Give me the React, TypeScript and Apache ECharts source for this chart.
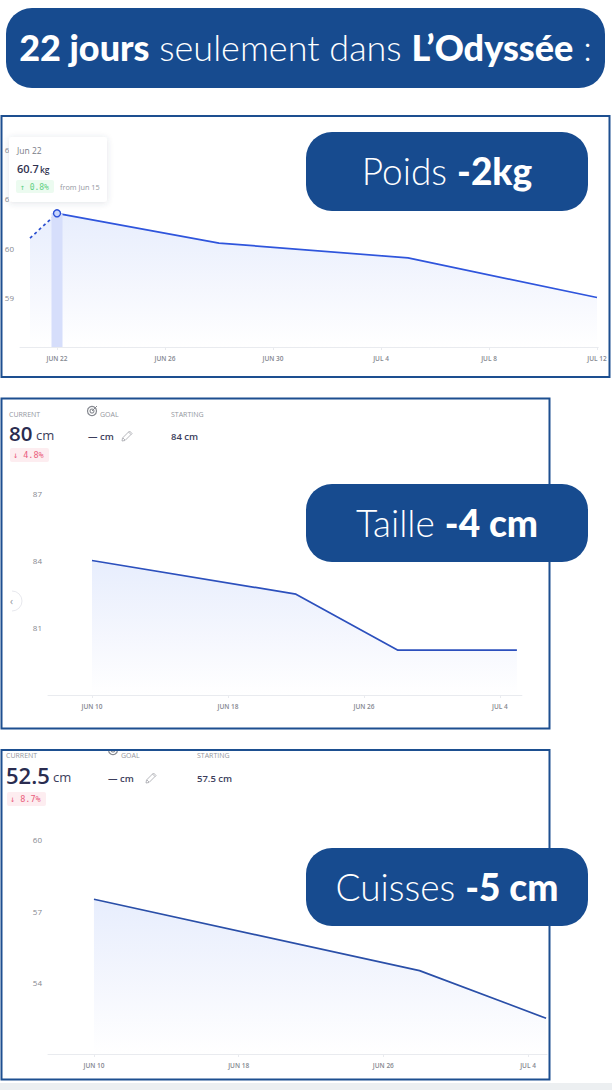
import { useEffect, useRef } from "react";
import * as echarts from "echarts";

// Poids (kg)
const poidsProjected: Array<[string, number]> = [["2024-06-21", 60.2], ["2024-06-22", 60.7]];
const poidsValues: Array<[string, number]> = [
  ["2024-06-22", 60.7],
  ["2024-06-28", 60.1],
  ["2024-07-05", 59.8],
  ["2024-07-12", 59.0],
];
const poidsSelected: Array<[string, number]> = [["2024-06-22", 60.7]];
const poidsTicks = ["2024-06-22", "2024-06-26", "2024-06-30", "2024-07-04", "2024-07-08", "2024-07-12"];

// Taille (cm)
const tailleValues: Array<[string, number]> = [
  ["2024-06-10", 84],
  ["2024-06-22", 82.5],
  ["2024-06-28", 80],
  ["2024-07-05", 80],
];
const tailleTicks = ["2024-06-10", "2024-06-18", "2024-06-26", "2024-07-04"];

// Cuisses (cm)
const cuissesValues: Array<[string, number]> = [
  ["2024-06-10", 57.5],
  ["2024-06-28", 54.5],
  ["2024-07-05", 52.5],
];
const cuissesTicks = ["2024-06-10", "2024-06-18", "2024-06-26", "2024-07-04"];

const MONTHS = ["JAN", "FEB", "MAR", "APR", "MAY", "JUN", "JUL", "AUG", "SEP", "OCT", "NOV", "DEC"];
const NAVY = "#174b8f";
const FRAME = "#1d4f90";
const UI_FONT = "'Open Sans', sans-serif";
const HEAD_FONT = "Lato, sans-serif";
const MONO = "'DejaVu Sans Mono', monospace";

const PENCIL = "M17 2 L22 7 L8 21 L2 22 L3 16 Z M15 4 L20 9 M4 16 L8 20";
echarts.graphic.registerShape("pencil", echarts.graphic.extendPath(PENCIL as any, {}) as any);

// dates sit on a plain value axis as day numbers
const dayNum = (s: string) => Date.parse(`${s}T00:00:00Z`) / 86400000;
const toDays = (rows: Array<[string, number]>) => rows.map(([d, v]) => [dayNum(d), v]);

const areaFill = () => ({
  color: new echarts.graphic.LinearGradient(0, 0, 0, 1, [
    { offset: 0, color: "#dde6fc" },
    { offset: 0.55, color: "#f0f3fd" },
    { offset: 1, color: "#ffffff" },
  ]),
});

const makeX = (gridIndex: number, min: number, max: number, ticks: string[]) => {
  const values = ticks.map(dayNum);
  return {
    type: "value",
    gridIndex,
    min,
    max,
    scale: true,
    splitLine: { show: false },
    axisLine: { show: true, onZero: false, lineStyle: { color: "#e9ebef", width: 1 } },
    axisTick: { show: true, length: 3, customValues: values, lineStyle: { color: "#e9ebef" } },
    axisLabel: {
      show: true,
      customValues: values,
      margin: 8,
      fontSize: 6.5,
      fontWeight: 600,
      fontFamily: UI_FONT,
      color: "#85888f",
      formatter: (v: number) => {
        const d = new Date(v * 86400000);
        return `${MONTHS[d.getUTCMonth()]} ${d.getUTCDate()}`;
      },
    },
  };
};

const makeY = (gridIndex: number, min: number, max: number, interval: number) => ({
  type: "value",
  gridIndex,
  min,
  max,
  interval,
  splitLine: { show: false },
  axisLine: { show: false },
  axisTick: { show: false },
  axisLabel: {
    margin: 6,
    fontSize: 8,
    fontFamily: UI_FONT,
    color: "#85888f",
    padding: [0, 0, 2, 0],
    showMinLabel: false,
    formatter: (v: number) => (v === min ? "" : String(v)),
  },
});

const makeLine = (index: number, data: Array<[string, number]>, color: string, dashed = false) => ({
  type: "line",
  xAxisIndex: index,
  yAxisIndex: index,
  data: toDays(data),
  symbol: "none",
  lineStyle: { color, width: 1.7, type: dashed ? [3, 3] : "solid" },
  areaStyle: areaFill(),
  z: 3,
});

const txt = (x: number, y: number, text: string, fontSize: number, fill: string, extra: any = {}) => ({
  type: "text",
  x,
  y,
  z: 20,
  silent: true,
  style: { text, fontSize, fill, fontFamily: UI_FONT, verticalAlign: "middle", ...extra },
});

const box = (x: number, y: number, width: number, height: number, r: number, style: any, z = 20) => ({
  type: "rect",
  z,
  silent: true,
  shape: { x, y, width, height, r },
  style,
});

const pill = (x: number, y: number, w: number, h: number, rich: string, fontSize: number) => [
  box(x, y, w, h, 26, { fill: NAVY }, 30),
  {
    type: "text",
    x: x + w / 2,
    y: y + h / 2 - 1,
    z: 31,
    silent: true,
    style: {
      text: rich,
      align: "center",
      verticalAlign: "middle",
      rich: {
        l: { fontSize, fontWeight: 300, fill: "#ffffff", fontFamily: HEAD_FONT },
        b: { fontSize, fontWeight: 900, fill: "#ffffff", fontFamily: HEAD_FONT },
      },
    },
  },
];

// header block above the taille and cuisses charts
const statHeader = (o: {
  current: string; curX: number; cmX: number; labelY: number; valueY: number; bigSize: number;
  badge: string; badgeX: number; badgeY: number; goalX: number; dashX: number; pencilX: number;
  startX: number; starting: string; iconY: number;
}) => [
  txt(o.curX, o.labelY, "CURRENT", 7, "#93969e"),
  txt(o.curX, o.valueY - 3, o.current, o.bigSize, "#2a2c50", { fontWeight: 600 }),
  txt(o.cmX, o.valueY - 1, "cm", 13, "#3c3e5c"),
  box(o.badgeX, o.badgeY, 39, 14, 2, { fill: "#fdedf0" }),
  txt(o.badgeX + 3, o.badgeY + 7, o.badge, 8.5, "#ea5d7d", { fontFamily: MONO }),
  { type: "circle", z: 20, silent: true, shape: { cx: o.goalX - 8, cy: o.iconY, r: 4.5 }, style: { fill: "none", stroke: "#85888f", lineWidth: 1.2 } },
  { type: "circle", z: 20, silent: true, shape: { cx: o.goalX - 8, cy: o.iconY, r: 2 }, style: { fill: "none", stroke: "#85888f", lineWidth: 1.1 } },
  { type: "line", z: 20, silent: true, shape: { x1: o.goalX - 8, y1: o.iconY, x2: o.goalX - 3, y2: o.iconY - 5 }, style: { stroke: "#85888f", lineWidth: 1 } },
  txt(o.goalX, o.labelY, "GOAL", 7, "#93969e"),
  txt(o.dashX, o.valueY, "— cm", 9.5, "#3c3e5c", { fontWeight: 600 }),
  {
    type: "pencil",
    x: o.pencilX,
    y: o.valueY - 6,
    scaleX: 0.5,
    scaleY: 0.5,
    z: 20,
    silent: true,
    style: { fill: "none", stroke: "#a3a5ab", lineWidth: 1.6 },
  },
  txt(o.startX, o.labelY, "STARTING", 7, "#93969e"),
  txt(o.startX, o.valueY, o.starting, 9.5, "#3c3e5c", { fontWeight: 600 }),
];

export default function App() {
  const ref = useRef<HTMLDivElement | null>(null);

  useEffect(() => {
    if (!ref.current) return;
    document.body.style.margin = "0";
    const chart = echarts.init(ref.current, undefined, { renderer: "svg" });

    chart.setOption({
      animation: false,
      backgroundColor: "#ffffff",
      grid: [
        { left: 20, top: 149, width: 578.25, height: 198 },
        { left: 48, top: 493.3, width: 473.9, height: 201.7 },
        { left: 48, top: 839.7, width: 499, height: 214.3 },
      ],
      xAxis: [
        makeX(0, dayNum("2024-06-22") - 37 / 27, dayNum("2024-07-12") + 1.25 / 27, poidsTicks),
        makeX(1, dayNum("2024-06-10") - 44 / 17, dayNum("2024-07-04") + 22 / 17, tailleTicks),
        makeX(2, dayNum("2024-06-10") - 46 / 18.1, dayNum("2024-07-04") + 19 / 18.1, cuissesTicks),
      ],
      yAxis: [makeY(0, 58, 62, 1), makeY(1, 78, 87, 3), makeY(2, 51, 60, 3)],
      series: [
        {
          type: "bar",
          xAxisIndex: 0,
          yAxisIndex: 0,
          data: toDays(poidsSelected),
          barWidth: 11,
          itemStyle: { color: "#d6defb" },
          z: 4,
        },
        makeLine(0, poidsProjected, "#2a4fd0", true),
        makeLine(0, poidsValues, "#2f55dc"),
        {
          type: "line",
          xAxisIndex: 0,
          yAxisIndex: 0,
          data: toDays(poidsSelected),
          symbol: "circle",
          symbolSize: 7,
          itemStyle: { color: "#c9d6fb", borderColor: "#2a4fd8", borderWidth: 1.4 },
          z: 6,
        },
        makeLine(1, tailleValues, "#2c50bd"),
        makeLine(2, cuissesValues, "#2a4fa8"),
      ],
      graphic: {
        elements: [
          // title
          ...pill(6, 8, 599, 80, "{b|22 jours}{l| seulement dans }{b|L’Odyssée}{l| :}", 36),

          // tooltip card of the first chart
          box(9, 137, 98, 65, 3, {
            fill: "#ffffff",
            shadowBlur: 6,
            shadowColor: "rgba(60,70,110,0.16)",
            shadowOffsetY: 1,
          }),
          txt(17, 150, "Jun 22", 8.5, "#7a7d88"),
          txt(17, 168, "60.7", 11, "#30324f", { fontWeight: 600 }),
          txt(40, 169, "kg", 8.5, "#30324f", { fontWeight: 600 }),
          box(16, 180, 38, 13, 2, { fill: "#ecfbf0" }),
          txt(20, 187, "↑ 0.8%", 8, "#5fd083", { fontFamily: MONO }),
          txt(60, 187, "from Jun 15", 7.3, "#93969e"),

          // taille header
          ...statHeader({
            current: "80", curX: 9, cmX: 36, labelY: 414, valueY: 436, bigSize: 20.5,
            badge: "↓ 4.8%", badgeX: 10, badgeY: 448, goalX: 100, dashX: 88, pencilX: 121,
            startX: 171, starting: "84 cm", iconY: 411,
          }),
          { type: "arc", z: 20, silent: true, shape: { cx: 12, cy: 601, r: 10, startAngle: -Math.PI / 2, endAngle: Math.PI / 2 }, style: { fill: "none", stroke: "#e8e9ee", lineWidth: 1 } },
          txt(10, 601, "‹", 10, "#8f929b"),

          // cuisses header
          ...statHeader({
            current: "52.5", curX: 6, cmX: 53, labelY: 755, valueY: 778, bigSize: 22,
            badge: "↓ 8.7%", badgeX: 7, badgeY: 792, goalX: 121, dashX: 108, pencilX: 145,
            startX: 197, starting: "57.5 cm", iconY: 750,
          }),

          // white strip hides the top of the goal icon that the crop cuts off
          box(0, 740, 612, 9, 0, { fill: "#ffffff" }, 25),

          // frames
          box(1.5, 116, 608, 261, 0, { fill: "none", stroke: FRAME, lineWidth: 2 }, 26),
          box(1.5, 398.5, 548, 330, 0, { fill: "none", stroke: FRAME, lineWidth: 2 }, 26),
          box(1.5, 750, 548, 329.5, 0, { fill: "none", stroke: FRAME, lineWidth: 2 }, 26),
          box(0, 1083, 612, 7, 0, { fill: "#eceff1" }, 26),

          // labels
          ...pill(306, 132, 282, 79, "{l|Poids }{b|-2kg}", 37),
          ...pill(306, 484, 282, 78, "{l|Taille }{b|-4 cm}", 37),
          ...pill(306, 848, 282, 78, "{l|Cuisses }{b|-5 cm}", 37),
        ],
      },
    });

    return () => chart.dispose();
  }, []);

  return <div ref={ref} style={{ position: "absolute", left: 0, top: 0, width: 612, height: 1090 }} />;
}
